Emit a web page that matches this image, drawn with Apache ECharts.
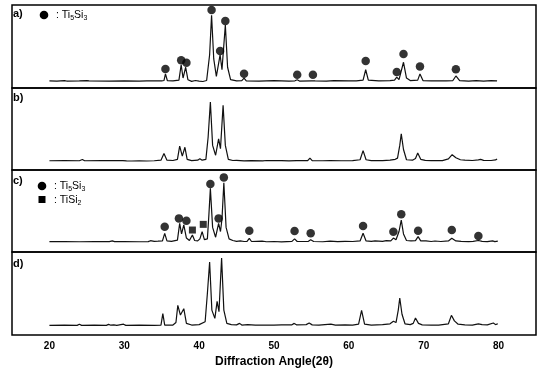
<!DOCTYPE html>
<html>
<head>
<meta charset="utf-8">
<script src="https://cdn.jsdelivr.net/npm/echarts@6/dist/echarts.min.js"></script>
<style>
  html, body { margin: 0; padding: 0; background: #fff; }
  #chart { width: 542px; height: 378px; }
</style>
</head>
<body>
<div id="chart"></div>
<script>
// 2θ tick labels
const xTicks = [20, 30, 40, 50, 60, 70, 80];
const panelLabels = ["a)", "b)", "c)", "d)"];

// intensity profiles (2θ, relative intensity 0-100 within each panel)
const patternA = [
  [20,8.6],[21,8.4],[22,8.9],[22.3,8.4],[24,8.5],[25,8.9],[25.3,8.5],[28,8.4],[30,8.6],[32,8.4],[33,8.7],[35,8.5],
  [35.3,9],[35.5,17],[35.75,9],[36.5,8.6],[37.3,9.5],[37.6,28],[37.85,12],[38.2,25],[38.5,10],[39,8],[39.5,9],
  [40,8.2],[40.5,7.8],[41,9],[41.4,40],[41.66,87.6],[41.95,35],[42.3,14],[42.8,40],[43.05,22],[43.2,40],[43.5,76],
  [43.8,25],[44.2,10],[45,8.6],[45.7,9],[46,12],[46.3,8.6],[48,8.4],[50,8.8],[52,8.4],[52.8,8.7],[53.1,10],
  [53.4,8.4],[55,8.7],[55.2,10],[55.5,8.5],[57,8.4],[58,8.8],[60,8.5],[61,8.7],[61.9,9.5],[62.25,22],[62.6,9.5],
  [64,8.6],[65.5,8.8],[66.1,9.5],[66.4,13],[66.7,10],[67.3,31],[67.7,12],[68.2,9],[69.2,9.5],[69.5,17],[69.9,9],
  [71,8.6],[73,8.5],[73.9,9],[74.3,14.5],[74.8,9],[76,8.4],[77,8.8],[78,8.4],[79,8.8],[79.8,8.6]
];
const patternB = [
  [20,11.3],[22,11.5],[24,11.3],[24.4,12.8],[24.7,11.3],[27,11.5],[29.8,11.4],[30,13],[30.3,11.2],[31,11],[32,11.3],
  [33,11],[34,11.3],[34.9,12],[35.3,20],[35.7,12],[36.5,11.6],[37.1,13],[37.4,29],[37.75,17],[38.1,27.7],[38.4,13],
  [39,11.5],[39.8,12],[40.1,13.8],[40.4,12],[40.9,13],[41.2,40],[41.5,83],[41.8,30],[42.2,18],[42.6,38],[42.85,26],
  [43.2,79],[43.5,30],[43.9,13],[44.5,11.6],[45,11.8],[46,11.2],[47,11.4],[48.5,11.2],[49,11.6],[50,11.4],[51,11.5],
  [52,11.2],[53,11.4],[54.5,11.5],[54.8,14.6],[55.1,11.5],[56.5,11.3],[57.5,11.5],[59,11.3],[60.5,11.5],[61.5,12.5],
  [61.9,23.6],[62.3,12.5],[63,11.5],[64.5,11.5],[65.5,12],[66.2,13],[66.5,14.5],[66.8,30],[67,44],[67.3,25],
  [67.7,12.5],[68.5,12],[68.9,14],[69.2,20.7],[69.6,13],[70.2,11.8],[71,11.5],[72.5,11.5],[73.3,13.5],[73.8,18.7],
  [74.3,15],[74.9,12.5],[75.5,12],[76.5,11.6],[77.3,12.3],[77.6,13],[78,11.8],[79,11.6],[79.6,12.3],[79.8,13.5]
];
const patternC = [
  [20,12.6],[22,12.8],[24,12.5],[26,12.8],[28,12.6],[28.4,13.5],[28.7,12.6],[30,12.8],[32,12.5],[33.2,12.7],[33.5,13.8],
  [34,13],[34.5,13.2],[35.1,13.5],[35.4,22.8],[35.7,13.5],[36.3,13],[37.1,14.5],[37.4,35],[37.65,22],[37.95,33],
  [38.3,17],[38.7,14],[39.1,20.7],[39.4,14],[39.8,13.5],[40.1,16],[40.4,24.8],[40.7,15],[41.1,16],[41.3,45],
  [41.5,77.6],[41.8,30],[42.2,18],[42.6,35],[42.85,25],[43.05,40],[43.3,84.5],[43.6,30],[44,16],[44.5,14],[45,13],
  [45.5,13.5],[46,12.8],[46.4,13],[46.7,16.7],[47,12.8],[48.4,13.3],[49,12.5],[50,12.8],[51,12.4],[52.4,13],
  [52.75,16],[53.1,12.8],[54.6,13],[54.9,15],[55.3,12.8],[56.5,12.5],[57.5,13.2],[58.5,12.6],[59.5,13],[60.5,12.8],
  [61.5,13.5],[61.9,22.8],[62.3,13.5],[63,13],[63.5,13.6],[64.5,13],[65,13.8],[65.6,13.5],[65.95,17],[66.3,15],
  [66.7,25],[67,39],[67.3,22],[67.7,14],[68.3,13.5],[68.9,13.8],[69.25,18.7],[69.6,13.5],[70.3,13.5],[71,12.8],
  [71.5,13.4],[72.3,12.8],[73.3,13.5],[73.75,16.7],[74.3,13.5],[75,13],[76,12.6],[76.6,12.9],[77.3,14],[77.8,12.9],
  [78.5,12.6],[79.2,13.6],[79.5,12.7],[79.9,13.3]
];
const patternD = [
  [20,11.6],[22,11.8],[23.7,11.6],[24,13],[24.3,11.6],[26,11.8],[27.6,11.6],[27.9,12.8],[28.2,11.8],[28.6,12.3],
  [29,11.6],[29.9,13],[30.2,11.6],[32,11.8],[34,11.6],[34.9,12],[35.15,25.7],[35.4,12],[36.5,12],[36.9,15],
  [37.15,35.7],[37.5,24],[37.95,31.7],[38.3,14],[39,12],[40,12.5],[40.8,16],[41.1,50],[41.4,88],[41.7,30],[42.1,20],
  [42.4,40.6],[42.65,28],[43,92.8],[43.3,30],[43.7,14],[44.3,12.5],[45,12.2],[45.4,14],[45.7,12],[46.5,12.4],
  [47.5,11.8],[48.5,12],[50,11.8],[51,12.2],[52.4,12.3],[52.7,14],[53,12.2],[54.3,12.5],[54.7,14.5],[55.1,12.2],
  [56,12],[57.6,13],[58.2,12],[59.5,12.2],[60.5,12],[61.3,13],[61.7,29.8],[62.1,13],[63,12],[64.5,12.4],[65.5,13.5],
  [65.95,16.5],[66.3,15],[66.6,30],[66.8,44.6],[67.1,25],[67.5,13.5],[68.2,12.5],[68.6,14],[68.9,20.5],[69.3,14],
  [69.8,12.2],[71,12],[72,12],[73.3,13.5],[73.7,23.7],[74.1,17],[74.6,13],[75.5,12.3],[76.5,12],[77.3,13.5],
  [77.8,12.5],[78.5,12.2],[79.3,14.5],[79.6,12.5],[79.9,13.5]
];

// phase markers (2θ, marker height)
const ti5si3A = [
  [35.5,23],[37.6,33.3],[38.3,30.5],[41.66,94],[42.8,44.6],[43.5,80.7],[46,17.2],[53.1,16],[55.2,16],
  [62.25,32.5],[66.4,19.3],[67.3,41],[69.5,26],[74.3,22.5]
];
const ti5si3C = [
  [35.4,30.9],[37.3,41],[38.3,38],[41.5,83],[42.6,41],[43.3,91],[46.7,26],[52.75,25.6],[54.9,22.8],
  [61.9,31.7],[65.95,24.8],[67,46],[69.25,26],[73.75,26.8],[77.3,19.5]
];
const tisi2C = [[39.1,26.8],[40.55,33.7]];

const patterns = [patternA, patternB, patternC, patternD];
const panelTops = [5, 88, 170, 252];
const panelHeights = [83, 82, 82, 83];

const chart = echarts.init(document.getElementById("chart"), null, { renderer: "canvas" });
const font = "Liberation Sans, Arial, sans-serif";

const grids = panelTops.map((top, i) => ({
  left: 12, right: 6, top, height: panelHeights[i],
  show: true, borderColor: "#000", borderWidth: 1.5, backgroundColor: "transparent"
}));

const xAxes = patterns.map((_, i) => ({
  type: "value", gridIndex: i, min: 15, max: 85,
  splitLine: { show: false },
  axisLine: { show: false },
  axisTick: { show: false },
  axisLabel: i === 3 ? {
    show: true, customValues: xTicks, color: "#000", fontSize: 10, fontWeight: "bold",
    fontFamily: font, margin: 6
  } : { show: false },
  name: i === 3 ? "Diffraction Angle(2θ)" : "",
  nameLocation: "middle", nameGap: 21,
  nameTextStyle: { color: "#000", fontSize: 12, fontWeight: "bold", fontFamily: font }
}));

const yAxes = patterns.map((_, i) => ({
  type: "value", gridIndex: i, min: 0, max: 100, show: false
}));

const series = patterns.map((data, i) => ({
  type: "line", xAxisIndex: i, yAxisIndex: i, data,
  showSymbol: false, lineStyle: { color: "#111", width: 1.2 }, silent: true, z: 2
}));
const dot = (data, idx, symbol, size) => ({
  type: "scatter", xAxisIndex: idx, yAxisIndex: idx, data, symbol, symbolSize: size,
  itemStyle: { color: "#000" }, silent: true, z: 3
});
series.push(dot(ti5si3A, 0, "circle", 8.5));
series.push(dot(ti5si3C, 2, "circle", 8.5));
series.push(dot(tisi2C, 2, "rect", 7));

const rich = {
  n: { fontSize: 10.5, fontFamily: font, color: "#000" },
  s: { fontSize: 7, fontFamily: font, color: "#000", padding: [6, 0, 0, 0] }
};
const labelY = [14, 98, 181, 264];
const graphic = labelY.map((y, i) => ({
  type: "text", x: 13, y, style: {
    text: panelLabels[i], fill: "#000", font: "bold 11px " + font, verticalAlign: "middle"
  }
}));
graphic.push(
  { type: "circle", shape: { cx: 44, cy: 15, r: 4.3 }, style: { fill: "#000" } },
  { type: "text", x: 56, y: 15, style: { text: "{n|: Ti}{s|5}{n|Si}{s|3}", rich, verticalAlign: "middle" } },
  { type: "circle", shape: { cx: 42, cy: 186, r: 4.3 }, style: { fill: "#000" } },
  { type: "text", x: 54, y: 186, style: { text: "{n|: Ti}{s|5}{n|Si}{s|3}", rich, verticalAlign: "middle" } },
  { type: "rect", shape: { x: 38.5, y: 196, width: 7, height: 7 }, style: { fill: "#000" } },
  { type: "text", x: 54, y: 200, style: { text: "{n|: TiSi}{s|2}", rich, verticalAlign: "middle" } }
);

chart.setOption({
  backgroundColor: "#fff",
  animation: false,
  grid: grids,
  xAxis: xAxes,
  yAxis: yAxes,
  series,
  graphic
});
</script>
</body>
</html>
